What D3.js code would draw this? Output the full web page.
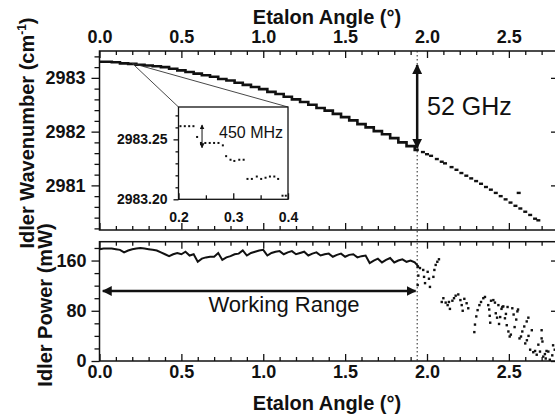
<!DOCTYPE html>
<html>
<head>
<meta charset="utf-8">
<script src="https://cdn.jsdelivr.net/npm/d3@7"></script>
<style>
  body { margin: 0; background: #fff; }
  svg { display: block; }
  text { font-family: "Liberation Sans", Arial, sans-serif; fill: #111; }
</style>
</head>
<body>
<div id="chart"></div>
<script>
// ---- data ----
// idler wavenumber (cm-1) vs etalon angle, continuous part
const wnAngle = [0.00,0.05,0.10,0.15,0.20,0.25,0.30,0.35,0.40,0.45,0.50,0.55,0.60,0.65,0.70,0.75,0.80,0.85,0.90,0.95,
                 1.00,1.05,1.10,1.15,1.20,1.25,1.30,1.35,1.40,1.45,1.50,1.55,1.60,1.65,1.70,1.75,1.80,1.85,1.90,1.95];
const wnValue = [2983.30,2983.30,2983.29,2983.27,2983.26,2983.245,2983.23,2983.215,2983.20,2983.17,2983.14,2983.11,2983.08,2983.05,2983.02,2982.98,2982.95,2982.91,2982.87,2982.83,
                 2982.79,2982.74,2982.70,2982.65,2982.60,2982.55,2982.50,2982.44,2982.39,2982.33,2982.27,2982.21,2982.14,2982.08,2982.01,2981.95,2981.88,2981.80,2981.73,2981.66];
// broken part beyond the working range (short plateaus)
const hopAngle = [1.975,2.00,2.025,2.06,2.09,2.11,2.15,2.18,2.21,2.24,2.27,2.30,2.33,2.36,2.39,2.42,2.45,2.48,2.51,2.54,2.56,2.57,2.60,2.63,2.66,2.68];
const hopValue = [2981.62,2981.58,2981.55,2981.49,2981.44,2981.41,2981.34,2981.29,2981.23,2981.18,2981.13,2981.08,2981.03,2980.97,2980.92,2980.86,2980.80,2980.74,2980.68,2980.62,2980.86,2980.57,2980.51,2980.45,2980.38,2980.35];

// inset: zoom on 0.2 - 0.4 deg
const insetAngle = [0.2036,0.2115,0.2195,0.2273,0.234,0.241,0.249,0.257,0.265,0.273,0.281,0.287,0.295,0.302,0.311,0.319,
                    0.326,0.334,0.343,0.351,0.359,0.367,0.375,0.382,0.390,0.396];
const insetValue = [2983.261,2983.261,2983.261,2983.261,2983.252,2983.247,2983.247,2983.247,2983.247,2983.247,2983.245,2983.236,2983.233,2983.232,2983.233,2983.233,
                    2983.217,2983.217,2983.219,2983.217,2983.218,2983.219,2983.219,2983.217,2983.203,2983.203];

// idler power (mW), connected part
const powerAngle = [0.000,0.025,0.050,0.075,0.100,0.125,0.150,0.175,0.200,0.225,0.250,0.275,0.300,0.325,0.350,0.375,0.400,0.425,0.450,0.475,
                    0.500,0.525,0.550,0.575,0.600,0.625,0.650,0.675,0.700,0.725,0.750,0.775,0.800,0.825,0.850,0.875,0.900,0.925,0.950,0.975,
                    1.000,1.025,1.050,1.075,1.100,1.125,1.150,1.175,1.200,1.225,1.250,1.275,1.300,1.325,1.350,1.375,1.400,1.425,1.450,1.475,
                    1.500,1.525,1.550,1.575,1.600,1.625,1.650,1.675,1.700,1.725,1.750,1.775,1.800,1.825,1.850,1.875,1.900,1.925,1.950];
const powerValue = [178,179,179,179,178,177,173,176,178,179,180,179,178,177,176,173,170,167,170,172,
                    170,174,168,170,158,163,165,166,166,172,161,165,167,170,171,176,168,172,174,176,
                    177,168,172,174,175,170,173,175,170,172,174,168,171,173,168,170,171,166,169,171,
                    166,169,170,165,167,168,156,160,163,157,161,164,157,160,162,158,160,157,150];
// idler power, scattered points after 1.94 deg
const scatterAngle = [1.943,1.957,1.947,1.943,1.977,1.982,1.988,2.004,2.012,2.018,2.039,2.045,2.053,2.063,2.073,
                      2.090,2.100,2.114,2.126,2.140,2.134,2.155,2.165,2.175,2.191,2.204,2.212,2.218,2.228,2.242,2.252,
                      2.289,2.293,2.301,2.309,2.320,2.330,2.344,2.354,2.374,2.380,2.383,2.386,2.391,2.405,2.415,2.420,2.428,2.436,
                      2.440,2.447,2.455,2.460,2.466,2.476,2.482,2.487,2.492,2.497,2.505,2.512,2.521,2.529,2.535,2.545,2.552,2.556,
                      2.565,2.574,2.582,2.594,2.609,2.619,2.630,2.600,2.610,2.620,2.640,2.649,2.660,2.670,2.680,2.690,2.700,2.700,
                      2.705,2.710,2.720,2.725,2.730,2.741,2.750,2.765,2.770,2.780,2.790];
const scatterPower = [150,148,136,121,145,134,124,142,131,118,134,145,153,158,162,
                      94,100,93,89,83,94,96,100,104,106,97,89,80,99,92,84,
                      46,58,71,81,89,94,100,102,89,82,72,61,96,97,93,76,69,89,
                      59,70,83,86,87,68,75,57,86,47,39,42,84,74,54,66,79,82,
                      36,39,47,55,63,69,18,28,33,40,49,14,16,10,26,15,36,49,
                      31,7,11,4,16,15,2,9,25,18,7];

// ticks and annotations
const angleTicks = [0, 0.5, 1.0, 1.5, 2.0, 2.5];
const wnTicks = [2981, 2982, 2983];
const powerTicks = [0, 80, 160];
const insetAngleTicks = [0.2, 0.3, 0.4];
const insetWnTicks = [2983.20, 2983.25];
const edgeAngle = 1.94;                 // end of working range
const gapArrow = [2983.24, 2981.70];     // 52 GHz span
const hopArrow = [2983.262, 2983.243];   // 450 MHz hop
const hopArrowAngle = 0.243;
const rangeArrow = [0.02, 1.93];
const rangeArrowPower = 111.5;

// ---- drawing ----
const width = 555, height = 415;
const svg = d3.select("#chart").append("svg").attr("width", width).attr("height", height);

const x = d3.scaleLinear().domain([0, 2.8]).range([99.5, 558]);
const yTop = d3.scaleLinear().domain([2980.17, 2983.5]).range([230, 51]);
const yBot = d3.scaleLinear().domain([0, 190]).range([361, 241.7]);
const xIn = d3.scaleLinear().domain([0.2, 0.4]).range([178.5, 288]);
const yIn = d3.scaleLinear().domain([2983.20, 2983.277]).range([199.3, 107]);

const minorAngles = d3.range(0, 2.81, 0.1).filter(v => Math.abs(v * 2 - Math.round(v * 2)) > 1e-6);
const minorWn = d3.range(2980.2, 2983.45, 0.2).filter(v => Math.abs(v - Math.round(v)) > 1e-6);
const minorPower = d3.range(0, 191, 20).filter(v => v % 80 !== 0);

svg.append("defs").append("marker")
  .attr("id", "head").attr("viewBox", "0 0 10 10").attr("refX", 9).attr("refY", 5)
  .attr("markerWidth", 4).attr("markerHeight", 4).attr("orient", "auto-start-reverse")
  .append("path").attr("d", "M0,0L10,5L0,10z").attr("fill", "#111");
svg.append("defs").append("marker")
  .attr("id", "smallhead").attr("viewBox", "0 0 10 10").attr("refX", 9).attr("refY", 5)
  .attr("markerWidth", 5).attr("markerHeight", 5).attr("orient", "auto-start-reverse")
  .append("path").attr("d", "M0,0L10,5L0,10z").attr("fill", "#111");

function styleAxis(g, size) {
  g.select(".domain").remove();
  g.selectAll("line").attr("stroke", "#111").attr("stroke-width", 1.3);
  g.selectAll("text").style("font-size", size + "px").style("font-weight", "bold").attr("fill", "#111");
}
function addAxis(axis, tx, ty, size) {
  const g = svg.append("g").attr("transform", `translate(${tx},${ty})`).call(axis);
  styleAxis(g, size || 18);
  return g;
}

// panel frames
[[yTop.range()[1], yTop.range()[0]], [yBot.range()[1], yBot.range()[0]]].forEach(([t, b]) => {
  svg.append("rect").attr("x", x.range()[0]).attr("y", t)
    .attr("width", x.range()[1] - x.range()[0]).attr("height", b - t)
    .attr("fill", "none").attr("stroke", "#111").attr("stroke-width", 1.5);
});

// top panel axes
addAxis(d3.axisTop(x).tickValues(angleTicks).tickSize(-7).tickPadding(8).tickFormat(d3.format(".1f")), 0, 51);
addAxis(d3.axisTop(x).tickValues(minorAngles).tickSize(-4).tickFormat(""), 0, 51);
addAxis(d3.axisBottom(x).tickValues(angleTicks).tickSize(-7).tickFormat(""), 0, 230);
addAxis(d3.axisBottom(x).tickValues(minorAngles).tickSize(-4).tickFormat(""), 0, 230);
addAxis(d3.axisLeft(yTop).tickValues(wnTicks).tickSize(8).tickPadding(6).tickFormat(d3.format("d")), 99.5, 0);
addAxis(d3.axisLeft(yTop).tickValues(minorWn).tickSize(5).tickFormat(""), 99.5, 0);
addAxis(d3.axisRight(yTop).tickValues(wnTicks).tickSize(-7).tickFormat(""), 558, 0);

// bottom panel axes
addAxis(d3.axisTop(x).tickValues(angleTicks).tickSize(-7).tickFormat(""), 0, 241.7);
addAxis(d3.axisTop(x).tickValues(minorAngles).tickSize(-4).tickFormat(""), 0, 241.7);
addAxis(d3.axisBottom(x).tickValues(angleTicks).tickSize(-7).tickPadding(4).tickFormat(d3.format(".1f")), 0, 361);
addAxis(d3.axisBottom(x).tickValues(minorAngles).tickSize(-4).tickFormat(""), 0, 361);
addAxis(d3.axisLeft(yBot).tickValues(powerTicks).tickSize(8).tickPadding(5).tickFormat(d3.format("d")), 99.5, 0);
addAxis(d3.axisLeft(yBot).tickValues(minorPower).tickSize(5).tickFormat(""), 99.5, 0);
addAxis(d3.axisRight(yBot).tickValues(powerTicks).tickSize(-7).tickFormat(""), 558, 0);

// dotted marker at the end of the working range
svg.append("line")
  .attr("x1", x(edgeAngle)).attr("x2", x(edgeAngle))
  .attr("y1", yTop.range()[1]).attr("y2", yBot.range()[0])
  .attr("stroke", "#222").attr("stroke-width", 1).attr("stroke-dasharray", "1.5,2.5");

// wavenumber curve
const wnData = wnAngle.map((a, i) => [a, wnValue[i]]);
svg.append("path").datum(wnData)
  .attr("d", d3.line().x(d => x(d[0])).y(d => yTop(d[1])).curve(d3.curveStep))
  .attr("fill", "none").attr("stroke", "#111").attr("stroke-width", 2.6);
svg.append("g").selectAll("rect").data(hopAngle.map((a, i) => [a, hopValue[i]])).join("rect")
  .attr("x", d => x(d[0]) - 2).attr("y", d => yTop(d[1]) - 1.2)
  .attr("width", 4).attr("height", 2.4).attr("fill", "#111");

// zoom guide lines
const zx = x(insetAngleTicks[0]), zy = yTop(2983.27);
[xIn.range()[0], xIn.range()[1]].forEach(cx => {
  svg.append("line").attr("x1", zx).attr("y1", zy).attr("x2", cx).attr("y2", yIn.range()[1])
    .attr("stroke", "#333").attr("stroke-width", 0.9);
});

// inset
svg.append("rect").attr("x", xIn.range()[0]).attr("y", yIn.range()[1])
  .attr("width", xIn.range()[1] - xIn.range()[0]).attr("height", yIn.range()[0] - yIn.range()[1])
  .attr("fill", "#fff").attr("stroke", "#111").attr("stroke-width", 1.3);
addAxis(d3.axisLeft(yIn).tickValues(insetWnTicks).tickSize(5).tickPadding(6).tickFormat(d3.format(".2f")), xIn.range()[0], 0, 14);
addAxis(d3.axisLeft(yIn).tickValues(d3.range(2983.21, 2983.275, 0.01).filter(v => Math.abs(v - 2983.25) > 1e-6)).tickSize(3).tickFormat(""), xIn.range()[0], 0);
addAxis(d3.axisBottom(xIn).tickValues(insetAngleTicks).tickSize(-6).tickPadding(13).tickFormat(d3.format(".1f")), 0, yIn.range()[0], 14);
addAxis(d3.axisBottom(xIn).tickValues([0.25, 0.35]).tickSize(-4).tickFormat(""), 0, yIn.range()[0]);

svg.append("g").selectAll("rect").data(insetAngle.map((a, i) => [a, insetValue[i]])).join("rect")
  .attr("x", d => xIn(d[0]) - 1).attr("y", d => yIn(d[1]) - 1)
  .attr("width", 2).attr("height", 2).attr("fill", "#111");
svg.append("line")
  .attr("x1", xIn(hopArrowAngle)).attr("x2", xIn(hopArrowAngle))
  .attr("y1", yIn(hopArrow[0])).attr("y2", yIn(hopArrow[1]))
  .attr("stroke", "#111").attr("stroke-width", 1)
  .attr("marker-start", "url(#smallhead)").attr("marker-end", "url(#smallhead)");
svg.append("text").attr("x", 219).attr("y", 138).style("font-size", "16px").text("450 MHz");

// 52 GHz arrow
svg.append("line")
  .attr("x1", x(edgeAngle)).attr("x2", x(edgeAngle))
  .attr("y1", yTop(gapArrow[0])).attr("y2", yTop(gapArrow[1]))
  .attr("stroke", "#111").attr("stroke-width", 2.5)
  .attr("marker-start", "url(#head)").attr("marker-end", "url(#head)");
svg.append("text").attr("x", 427).attr("y", 115).style("font-size", "25px").text("52 GHz");

// power curve and scatter
const pData = powerAngle.map((a, i) => [a, powerValue[i]]);
svg.append("path").datum(pData)
  .attr("d", d3.line().x(d => x(d[0])).y(d => yBot(d[1])))
  .attr("fill", "none").attr("stroke", "#111").attr("stroke-width", 2);
svg.append("g").selectAll("rect").data(scatterAngle.map((a, i) => [a, scatterPower[i]])).join("rect")
  .attr("x", d => x(d[0]) - 1.2).attr("y", d => yBot(d[1]) - 1.2)
  .attr("width", 2.4).attr("height", 2.4).attr("fill", "#111");

// working range arrow
svg.append("line")
  .attr("x1", x(rangeArrow[0])).attr("x2", x(rangeArrow[1]))
  .attr("y1", yBot(rangeArrowPower)).attr("y2", yBot(rangeArrowPower))
  .attr("stroke", "#111").attr("stroke-width", 2.5)
  .attr("marker-start", "url(#head)").attr("marker-end", "url(#head)");
svg.append("text").attr("x", 284).attr("y", 311.5).attr("text-anchor", "middle")
  .style("font-size", "22px").text("Working Range");

// axis titles
svg.append("text").attr("x", 327).attr("y", 24).attr("text-anchor", "middle")
  .style("font-size", "20px").style("font-weight", "bold").text("Etalon Angle (°)");
svg.append("text").attr("x", 327).attr("y", 410).attr("text-anchor", "middle")
  .style("font-size", "20px").style("font-weight", "bold").text("Etalon Angle (°)");
const wnTitle = svg.append("text").attr("transform", "translate(34,133) rotate(-90)").attr("text-anchor", "middle")
  .style("font-size", "20px").style("font-weight", "bold");
wnTitle.append("tspan").text("Idler Wavenumber (cm");
wnTitle.append("tspan").attr("dy", -8).style("font-size", "12px").text("-1");
wnTitle.append("tspan").attr("dy", 8).text(")");
svg.append("text").attr("transform", "translate(52,305) rotate(-90)").attr("text-anchor", "middle")
  .style("font-size", "20px").style("font-weight", "bold").text("Idler Power (mW)");
</script>
</body>
</html>
